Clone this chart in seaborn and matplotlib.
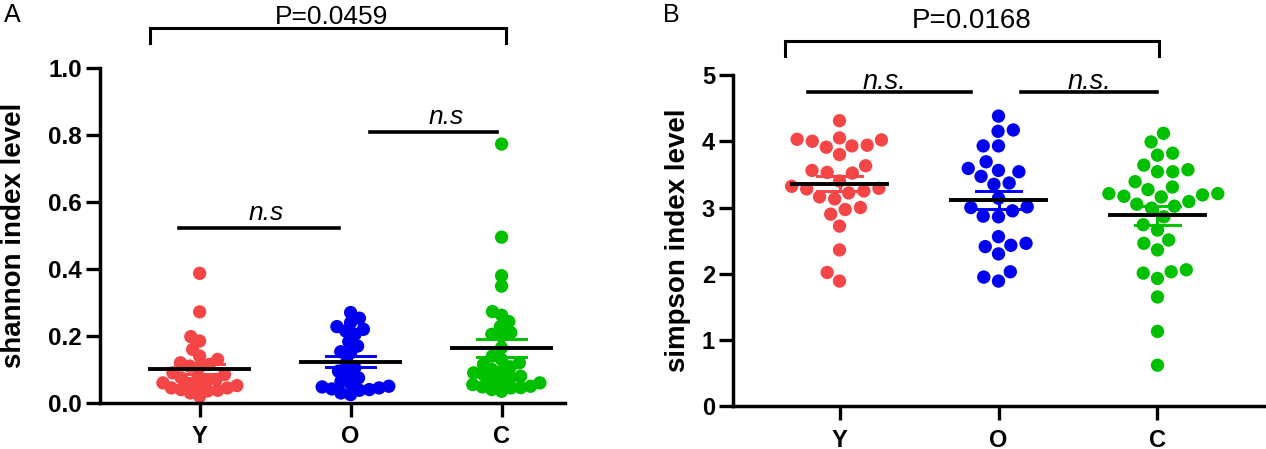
import numpy as np
import pandas as pd
import matplotlib
matplotlib.use("Agg")
import matplotlib.pyplot as plt
import seaborn as sns

# ---------------- data ----------------
groups = ["Y", "O", "C"]
colors = ["#F44646", "#0000F0", "#00C000"]

shannon_Y = [0.387, 0.272, 0.198, 0.185, 0.160, 0.140, 0.130, 0.120, 0.115, 0.110,
             0.108, 0.090, 0.085, 0.080, 0.075, 0.070, 0.065, 0.060, 0.058, 0.052,
             0.048, 0.045, 0.045, 0.040, 0.038, 0.036, 0.030, 0.020]
shannon_O = [0.270, 0.253, 0.240, 0.228, 0.220, 0.215, 0.205, 0.183, 0.170, 0.153,
             0.150, 0.120, 0.105, 0.095, 0.085, 0.075, 0.065, 0.058, 0.050, 0.048,
             0.045, 0.042, 0.040, 0.038, 0.030, 0.025]
shannon_C = [0.773, 0.495, 0.380, 0.349, 0.273, 0.262, 0.243, 0.228, 0.210, 0.205,
             0.200, 0.165, 0.140, 0.130, 0.120, 0.115, 0.108, 0.100, 0.095, 0.090,
             0.085, 0.080, 0.075, 0.070, 0.065, 0.060, 0.055, 0.050, 0.048, 0.046,
             0.045, 0.040, 0.035]

simpson_Y = [4.31, 4.05, 4.03, 4.02, 4.00, 3.94, 3.93, 3.91, 3.80, 3.63,
             3.56, 3.53, 3.52, 3.32, 3.29, 3.28, 3.25, 3.22, 3.16, 3.13,
             3.00, 2.97, 2.90, 2.72, 2.36, 2.02, 1.89, 3.40]
simpson_O = [4.38, 4.17, 4.15, 3.93, 3.93, 3.69, 3.59, 3.56, 3.54, 3.47,
             3.37, 3.35, 3.14, 3.01, 3.00, 2.95, 2.87, 2.86, 2.56, 2.46,
             2.43, 2.41, 2.30, 2.03, 1.95, 1.89]
simpson_C = [4.12, 3.99, 3.82, 3.79, 3.64, 3.57, 3.54, 3.54, 3.39, 3.31,
             3.27, 3.21, 3.21, 3.19, 3.17, 3.16, 3.09, 3.05, 3.02, 2.99,
             2.86, 2.74, 2.66, 2.51, 2.46, 2.36, 2.06, 2.03, 2.01, 1.93,
             1.65, 1.13, 0.62]

p_text = ["P=0.0459", "P=0.0168"]
ns_text = ["n.s", "n.s."]
ylabels = ["shannon index level", "simpson index level"]
panel_letters = ["A", "B"]


def long_df(ys, os_, cs):
    return pd.DataFrame({
        "group": ["Y"] * len(ys) + ["O"] * len(os_) + ["C"] * len(cs),
        "value": list(ys) + list(os_) + list(cs),
    })


dfA = long_df(shannon_Y, shannon_O, shannon_C)
dfB = long_df(simpson_Y, simpson_O, simpson_C)

W, H = 1266, 449
fig = plt.figure(figsize=(W / 100, H / 100), dpi=100)
axA = fig.add_axes([100 / W, 1 - 403 / H, 465 / W, 335 / H])
axB = fig.add_axes([733 / W, 1 - 406.3 / H, 531 / W, 331.3 / H])

SANS = ["Liberation Sans", "DejaVu Sans"]
DOT = 9.6  # marker diameter in points


def draw_panel(ax, df, xlim, ylim, yticks, ytickfmt, tsize,
               mean_hw, cap_hw, layout_size):
    ax.set_xlim(*xlim)
    ax.set_ylim(*ylim)
    sns.swarmplot(data=df, x="group", y="value", hue="group", order=groups,
                  hue_order=groups, palette=colors, size=layout_size, linewidth=0,
                  legend=False, ax=ax, zorder=2, warn_thresh=1.0)
    ax.set_xlim(*xlim)
    ax.set_ylim(*ylim)
    # mean +/- SEM
    for i, g in enumerate(groups):
        v = df.loc[df.group == g, "value"].to_numpy()
        m = v.mean()
        s = v.std(ddof=1) / np.sqrt(len(v))
        ax.plot([i, i], [m - s, m + s], color=colors[i], lw=2.1, zorder=3, solid_capstyle="butt")
        ax.plot([i - cap_hw, i + cap_hw], [m + s, m + s], color=colors[i], lw=2.1, zorder=3)
        ax.plot([i - cap_hw, i + cap_hw], [m - s, m - s], color=colors[i], lw=2.1, zorder=3)
        ax.plot([i - mean_hw, i + mean_hw], [m, m], color="black", lw=2.8, zorder=4)
    ax.set_yticks(yticks)
    ax.set_yticklabels([ytickfmt.format(t) for t in yticks])
    for lab in ax.get_yticklabels():
        lab.set_family(SANS)
        lab.set_fontweight("bold")
        lab.set_fontsize(tsize)
    ax.set_xticks(range(len(groups)))
    ax.set_xticklabels(groups, family=SANS, fontweight="bold", fontsize=17)
    ax.set_xlabel("")
    ax.spines["top"].set_visible(False)
    ax.spines["right"].set_visible(False)
    for sp in ("left", "bottom"):
        ax.spines[sp].set_linewidth(2.5)
        ax.spines[sp].set_capstyle("projecting")
    ax.tick_params(axis="both", length=10, width=2.4, color="black")
    ax.tick_params(axis="y", pad=3)
    ax.tick_params(axis="x", pad=6)
    ax.set_facecolor("none")


def finalize_dots(ax):
    # freeze the swarm layout computed by seaborn, then show the dots at full size
    for c in ax.collections:
        if "draw" in c.__dict__:
            del c.draw
        c.set_sizes([DOT ** 2])
        c.set_clip_on(False)


def bracket(ax, x0, x1, ytop, ylow, text, ty, tx, size):
    ax.plot([x0, x0, x1, x1], [ylow, ytop, ytop, ylow], color="black", lw=2.2,
            clip_on=False, solid_joinstyle="miter")
    ax.text(tx, ty, text, ha="center", va="center", family=SANS, fontsize=size)


def hbar(ax, x0, x1, y, text, tx, ty, size):
    ax.plot([x0, x1], [y, y], color="black", lw=2.6, clip_on=False)
    ax.text(tx, ty, text, ha="center", va="center", family=SANS,
            style="italic", fontsize=size)


# ---------------- panel A ----------------
draw_panel(axA, dfA, (-0.66, 2.42), (0, 1.0), [0.0, 0.2, 0.4, 0.6, 0.8, 1.0], "{:.1f}",
           17.5, 0.33, 0.16, 6.8)
axA.set_ylabel(ylabels[0], family=SANS, fontweight="bold", fontsize=20)
axA.yaxis.set_label_coords(-0.158, 0.5)
bracket(axA, -0.33, 2.03, 1.118, 1.074, p_text[0], 1.153, 0.875, 19)
hbar(axA, -0.14, 0.92, 0.522, ns_text[0], 0.44, 0.567, 19)
hbar(axA, 1.13, 1.97, 0.81, ns_text[0], 1.63, 0.853, 19)

# ---------------- panel B ----------------
draw_panel(axB, dfB, (-0.67, 2.67), (0, 5), [0, 1, 2, 3, 4, 5], "{:d}",
           17, 0.30, 0.14, 10.5)
axB.set_ylabel(ylabels[1], family=SANS, fontweight="bold", fontsize=20)
axB.yaxis.set_label_coords(-0.079, 0.5)
bracket(axB, -0.34, 2.01, 5.52, 5.28, p_text[1], 5.82, 0.83, 20)
hbar(axB, -0.2, 0.83, 4.74, ns_text[1], 0.28, 4.90, 19.5)
hbar(axB, 1.14, 2.0, 4.74, ns_text[1], 1.57, 4.90, 19.5)

fig.text(12 / W, 1 - 15 / H, panel_letters[0], family=SANS, fontsize=18,
         ha="center", va="center")
fig.text(671 / W, 1 - 15 / H, panel_letters[1], family=SANS, fontsize=18,
         ha="center", va="center")

# compute the swarm layout once, then freeze it with the full dot size
fig.canvas.draw()
finalize_dots(axA)
finalize_dots(axB)

fig.savefig("out.png", dpi=100)
